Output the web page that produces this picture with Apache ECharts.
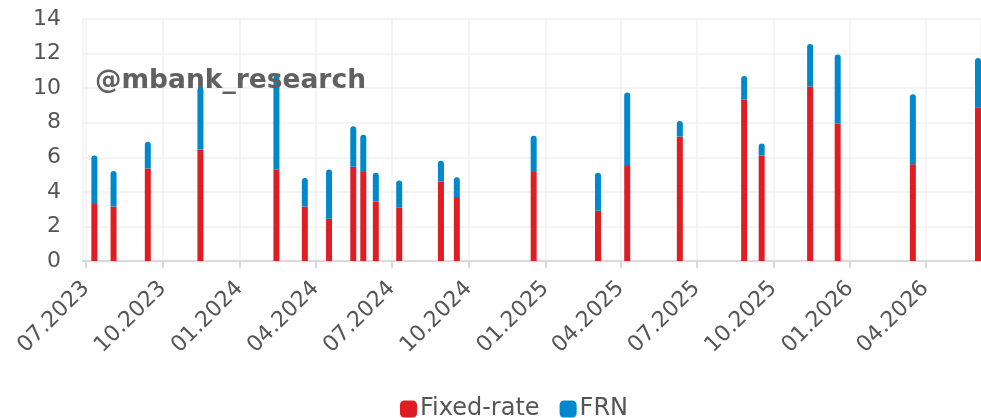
<!DOCTYPE html>
<html>
<head>
<meta charset="utf-8">
<script src="https://cdn.jsdelivr.net/npm/echarts@6/dist/echarts.min.js"></script>
<style>
  html, body { margin: 0; padding: 0; background: #fff; }
  #chart { width: 981px; height: 418px; }
</style>
</head>
<body>
<div id="chart"></div>
<script>
    // issue dates and amounts (bn)
    const dates = [
        '2023-07-11', '2023-08-03', '2023-09-13', '2023-11-15', '2024-02-14',
        '2024-03-19', '2024-04-17', '2024-05-16', '2024-05-28', '2024-06-12',
        '2024-07-10', '2024-08-29', '2024-09-17', '2024-12-18', '2025-03-05',
        '2025-04-09', '2025-06-11', '2025-08-27', '2025-09-17', '2025-11-14',
        '2025-12-17', '2026-03-17', '2026-06-03'
    ];
    const fixedRate = [
        3.3, 3.15, 5.35, 6.45, 5.3,
        3.15, 2.45, 5.45, 5.2, 3.45,
        3.1, 4.6, 3.7, 5.15, 2.9,
        5.55, 7.2, 9.35, 6.1, 10.1,
        7.95, 5.6, 8.9
    ];
    const frn = [
        2.8, 2.05, 1.55, 3.6, 5.45,
        1.65, 2.85, 2.35, 2.1, 1.65,
        1.55, 1.2, 1.15, 2.1, 2.2,
        4.2, 0.9, 1.35, 0.7, 2.45,
        4.0, 4.05, 2.85
    ];
    const seriesNames = ['Fixed-rate', 'FRN'];
    const COLORS = ['#dd1f24', '#0088cc'];

    const FONT = 'DejaVu Sans';
    const DAY = 24 * 3600 * 1000;

    const myChart = echarts.init(document.getElementById('chart'));

    const option = {
        animation: false,
        color: COLORS,
        grid: { left: 83, right: 0, top: 19, bottom: 157 },
        legend: {
            data: seriesNames,
            top: 392,
            left: 395,
            icon: 'roundRect',
            itemWidth: 17,
            itemHeight: 17,
            itemGap: 20,
            textStyle: { fontFamily: FONT, fontSize: 24, color: '#555', padding: [0, 0, 0, -2] }
        },
        graphic: [{
            type: 'text',
            left: 95,
            top: 68,
            z: 100,
            style: {
                text: '@mbank_research',
                fontFamily: FONT,
                fontWeight: 'bold',
                fontSize: 26.5,
                fill: '#606060'
            }
        }],
        xAxis: {
            type: 'time',
            min: '2023-07-01',
            max: '2026-06-03',
            minInterval: DAY * 88,
            maxInterval: DAY * 95,
            axisLine: { lineStyle: { color: '#d9d9d9', width: 2 } },
            axisTick: { show: true, length: 7, lineStyle: { color: '#d9d9d9', width: 2 } },
            splitLine: { show: true, lineStyle: { color: '#f1f1f1', width: 1.5 } },
            axisLabel: {
                rotate: 45,
                formatter: '{MM}.{yyyy}',
                fontFamily: FONT,
                fontSize: 22,
                color: '#555',
                margin: 24,
                hideOverlap: false
            }
        },
        yAxis: {
            type: 'value',
            min: 0,
            max: 14,
            interval: 2,
            axisLine: { show: false },
            axisTick: { show: false },
            splitLine: { lineStyle: { color: '#f1f1f1', width: 1.5 } },
            axisLabel: { fontFamily: FONT, fontSize: 22, color: '#555', margin: 22 }
        },
        series: [
            {
                name: seriesNames[0],
                type: 'bar',
                stack: 'total',
                barWidth: 6,
                data: dates.map((d, i) => [d, fixedRate[i]])
            },
            {
                name: seriesNames[1],
                type: 'bar',
                stack: 'total',
                barWidth: 6,
                itemStyle: { borderRadius: [3, 3, 0, 0] },
                data: dates.map((d, i) => [d, frn[i]])
            }
        ]
    };

    myChart.setOption(option);

    window.addEventListener('resize', () => {
        if (myChart) myChart.resize();
    });
</script>
</body>
</html>
